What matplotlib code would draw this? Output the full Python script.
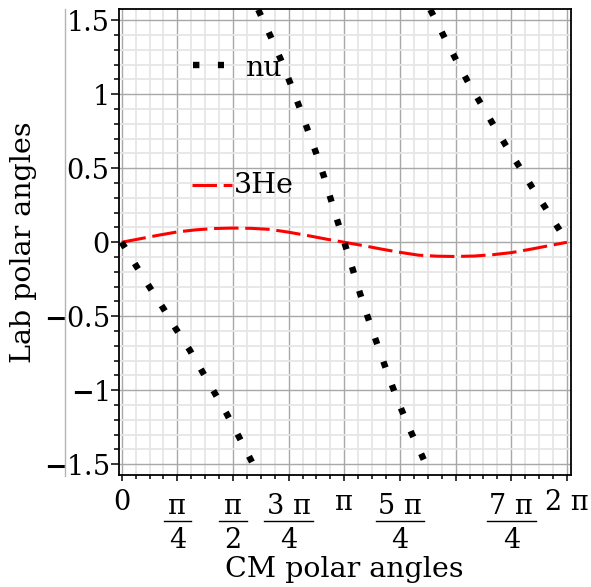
import numpy as np
import matplotlib
matplotlib.use('Agg')
import matplotlib.pyplot as plt
from matplotlib.lines import Line2D
from matplotlib.ticker import MultipleLocator, NullFormatter

plt.rcParams['font.family'] = 'DejaVu Serif'
plt.rcParams['font.size'] = 20.5
plt.rcParams['mathtext.fontset'] = 'dejavuserif'

# 3He lab angle vs CM angle
he3_x = np.arange(25) * np.pi / 12
he3_y = [0.000, 0.024, 0.048, 0.070, 0.084, 0.093, 0.096, 0.094, 0.087, 0.068,
         0.046, 0.022, 0.000, -0.022, -0.046, -0.068, -0.087, -0.094, -0.096,
         -0.093, -0.084, -0.070, -0.048, -0.024, 0.000]

# nu lab angle, three branches (arctan wraps at +-pi/2)
nu_a_x = [0, 0.212, 0.395, 0.587, 0.766, 0.960, 1.138, 1.312, 1.486, 1.651, 1.811, 1.930]
nu_a_y = [0, -0.165, -0.304, -0.446, -0.586, -0.728, -0.874, -1.018, -1.162, -1.311, -1.459, -1.571]
nu_b_x = [1.927, 1.966, 2.107, 2.248, 2.380, 2.506, 2.625, 2.742, 2.855, 2.954, 3.057, 3.142,
          3.260, 3.363, 3.471, 3.589, 3.702, 3.824, 3.951, 4.087, 4.234, 4.356]
nu_b_y = [1.571, 1.531, 1.385, 1.232, 1.074, 0.916, 0.759, 0.605, 0.443, 0.286, 0.126, 0.0,
          -0.182, -0.345, -0.503, -0.665, -0.818, -0.978, -1.133, -1.286, -1.437, -1.571]
nu_c_x = [4.356, 4.407, 4.562, 4.722, 4.887, 5.066, 5.244, 5.423, 5.617, 5.795, 5.988, 6.176, 6.283]
nu_c_y = [1.571, 1.524, 1.378, 1.230, 1.083, 0.939, 0.795, 0.653, 0.507, 0.369, 0.227, 0.085, 0.0]

y_ticks = [-1.5, -1, -0.5, 0, 0.5, 1, 1.5]
y_labels = [r'$\mathbf{-}$1.5', r'$\mathbf{-}$1', r'$\mathbf{-}$0.5', '0', '0.5', '1', '1.5']

# x tick labels (no label at 3pi/2)
xt_vals = [0, np.pi/4, np.pi/2, 3*np.pi/4, np.pi, 5*np.pi/4, 7*np.pi/4, 2*np.pi]
xt_num = ['0', '\u03c0', '\u03c0', '3 \u03c0', '\u03c0', '5 \u03c0', '7 \u03c0', '2 \u03c0']
xt_den = [None, '4', '2', '4', None, '4', '4', None]

W, H = 591, 587
fig = plt.figure(figsize=(W/100, H/100), dpi=100)
ax = fig.add_axes([118.5/W, (H-474.5)/H, 452.5/W, 465.5/H])

ax.plot(he3_x, he3_y, color='red', lw=2.2, linestyle=(0, (8.0, 2.2)))
nu_style = dict(color='black', lw=4.6, linestyle=(0, (1, 2.9)), dash_capstyle='butt')
ax.plot(nu_a_x, nu_a_y, **nu_style)
ax.plot(nu_b_x, nu_b_y, **nu_style)
ax.plot(nu_c_x, nu_c_y, **nu_style)

ax.set_xlim(-0.045, 6.341)
ax.set_ylim(-1.569, 1.576)

ax.xaxis.set_major_locator(MultipleLocator(np.pi/4))
ax.xaxis.set_minor_locator(MultipleLocator(np.pi/16))
ax.xaxis.set_major_formatter(NullFormatter())
ax.set_yticks(y_ticks)
ax.set_yticklabels(y_labels, fontsize=19.5)
ax.yaxis.set_minor_locator(MultipleLocator(0.1))

ax.grid(which='major', color='#a8a8a8', lw=1.0)
ax.grid(which='minor', color='#e6e6e6', lw=1.3)
ax.set_axisbelow(True)

ax.tick_params(axis='x', which='major', length=4, width=1.1)
ax.tick_params(axis='x', which='minor', length=2.9, width=1.1)
ax.tick_params(axis='y', which='major', length=6, width=1.1, pad=0.5)
ax.tick_params(axis='y', which='minor', length=3.4, width=1.1)
for s in ax.spines.values():
    s.set_linewidth(1.3)
    s.set_color('black')

# x tick labels as stacked fractions
tx = ax.get_xaxis_transform()
for xv, num, den in zip(xt_vals, xt_num, xt_den):
    if den is None:
        ax.text(xv, -0.0762, num, transform=tx, ha='center', va='baseline', fontsize=19.5)
    else:
        ax.text(xv, -0.0849, num, transform=tx, ha='center', va='baseline', fontsize=19.5)
        ax.text(xv, -0.1579, den, transform=tx, ha='center', va='baseline', fontsize=19.5)
        hw = 0.195 if len(num) == 1 else 0.345
        ax.plot([xv - hw, xv + hw], [-0.0999, -0.0999], transform=tx,
                color='black', lw=1.0, clip_on=False)

# legend entries inside the plot
ax.plot([0.1646, 0.2331], [0.8797, 0.8797], transform=ax.transAxes, **nu_style)
ax.text(0.2796, 0.8561, 'nu', transform=ax.transAxes, va='baseline')
ax.plot([0.1635, 0.2508], [0.6219, 0.6219], transform=ax.transAxes,
        color='red', lw=2.2, linestyle=(0, (8.0, 2.2)))
ax.text(0.2552, 0.6047, '3He', transform=ax.transAxes, va='baseline')

# axis titles
ax.text(0.5, -0.2202, 'CM polar angles', transform=ax.transAxes, ha='center', va='baseline')
fig.text(23.5/W, 1 - 241.75/H, 'Lab polar angles', rotation=90, ha='center', va='center')

# gray vertical line left of the tick labels
fig.add_artist(Line2D([65/W, 65/W], [1 - 9/H, 1 - 476/H], color='#b4b4b4', lw=1.0))

fig.savefig('out.png', dpi=100)
